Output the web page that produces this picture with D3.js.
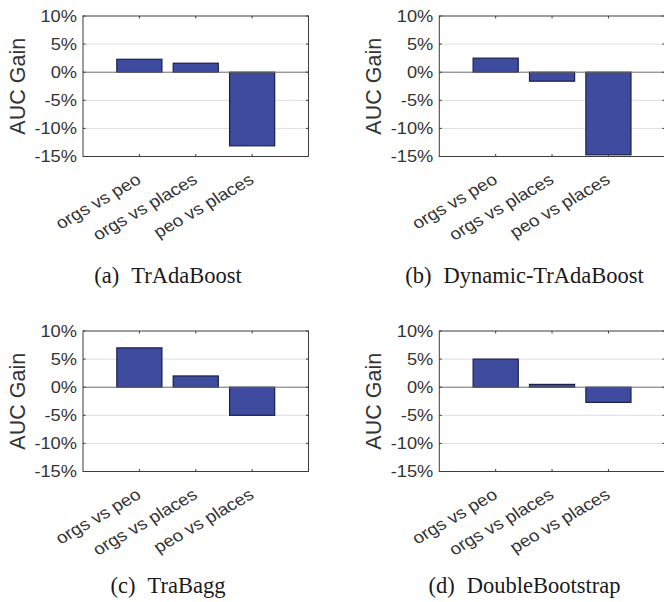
<!DOCTYPE html>
<html>
<head>
<meta charset="utf-8">
<script src="https://cdn.jsdelivr.net/npm/d3@7"></script>
<style>
  html, body { margin: 0; padding: 0; background: #fff; }
  svg { display: block; }
</style>
</head>
<body>
<svg id="chart" width="664" height="602"></svg>
<script>
// AUC gain of four transfer-learning methods on three source/target pairs
const categories = ["orgs vs peo", "orgs vs places", "peo vs places"];
const trAdaBoost = [2.3, 1.6, -13.1];
const dynamicTrAdaBoost = [2.5, -1.6, -14.7];
const traBagg = [7.0, 2.0, -5.0];
const doubleBootstrap = [5.0, 0.5, -2.7];
const yTicks = [-15, -10, -5, 0, 5, 10];
const panelTags = ["(a)", "(b)", "(c)", "(d)"];
const panelNames = ["TrAdaBoost", "Dynamic-TrAdaBoost", "TraBagg", "DoubleBootstrap"];
const yLabel = "AUC Gain";

const seriesList = [trAdaBoost, dynamicTrAdaBoost, traBagg, doubleBootstrap];

// grid of axes: two columns, two rows
const colLeft = [83, 439.3];
const axWidth = 225.5;
const rowTop = [16, 331];
const axHeight = 140.5;
const captionX = [168, 524.5];
const captionY = [283, 592.5];

const sx = 1.12; // horizontal widening of the sans labels
const fill = "#3e4b9e", edge = "#1a1f4a";
const axisColor = "#3d3d3d", textColor = "#333";

const svg = d3.select("#chart");
svg.append("rect").attr("width", 664).attr("height", 602).attr("fill", "#fff");

seriesList.forEach((values, i) => {
  const col = i % 2, row = Math.floor(i / 2);
  const left = colLeft[col], top = rowTop[row];
  const right = left + axWidth, bottom = top + axHeight;

  const x = d3.scaleLinear().domain([0, categories.length + 1]).range([left, right]);
  const y = d3.scaleLinear().domain([-15, 10]).range([bottom, top]);
  const bw = x(0.8) - x(0);

  const g = svg.append("g");

  // horizontal grid
  g.selectAll("line.grid").data(yTicks.filter(t => t > -15 && t < 10 && t !== 0))
    .join("line").attr("class", "grid")
    .attr("x1", left).attr("x2", right)
    .attr("y1", d => y(d)).attr("y2", d => y(d))
    .attr("stroke", "#dedede").attr("stroke-width", 1);

  // bars
  g.selectAll("rect.bar").data(values).join("rect").attr("class", "bar")
    .attr("x", (d, k) => x(k + 1) - bw / 2)
    .attr("width", bw)
    .attr("y", d => y(Math.max(0, d)))
    .attr("height", d => Math.abs(y(d) - y(0)))
    .attr("fill", fill).attr("stroke", edge).attr("stroke-width", 1.2);

  // baseline at zero
  g.append("line").attr("x1", left).attr("x2", right)
    .attr("y1", y(0)).attr("y2", y(0))
    .attr("stroke", "#6b6b6b").attr("stroke-width", 1);

  // axes frame with inward ticks on all four sides
  g.append("rect").attr("x", left).attr("y", top)
    .attr("width", axWidth).attr("height", axHeight)
    .attr("fill", "none").attr("stroke", axisColor).attr("stroke-width", 1);

  const tl = 2.5;
  categories.forEach((c, k) => {
    const cx = x(k + 1);
    g.append("line").attr("x1", cx).attr("x2", cx).attr("y1", bottom).attr("y2", bottom - tl)
      .attr("stroke", axisColor);
    g.append("line").attr("x1", cx).attr("x2", cx).attr("y1", top).attr("y2", top + tl)
      .attr("stroke", axisColor);
  });
  yTicks.forEach(t => {
    g.append("line").attr("x1", left).attr("x2", left + tl).attr("y1", y(t)).attr("y2", y(t))
      .attr("stroke", axisColor);
    g.append("line").attr("x1", right).attr("x2", right - tl).attr("y1", y(t)).attr("y2", y(t))
      .attr("stroke", axisColor);
  });

  // y tick labels
  g.selectAll("text.ytick").data(yTicks).join("text").attr("class", "ytick")
    .attr("transform", d => `translate(${left - 6},${y(d)}) scale(${sx},1)`)
    .attr("dy", "0.36em")
    .attr("text-anchor", "end")
    .attr("font-family", "'Liberation Sans', Arial, sans-serif")
    .attr("font-size", 16.3).attr("fill", textColor)
    .text(d => d + "%");

  // rotated category labels
  g.selectAll("text.xtick").data(categories).join("text").attr("class", "xtick")
    .attr("transform", (d, k) => `translate(${x(k + 1) + 3},${bottom + 26}) scale(${sx},1) rotate(-33)`)
    .attr("text-anchor", "end")
    .attr("font-family", "'Liberation Sans', Arial, sans-serif")
    .attr("font-size", 16.8).attr("fill", textColor)
    .text(d => d);

  // y axis title
  g.append("text")
    .attr("transform", `translate(${left - 58},${(top + bottom) / 2}) rotate(-90)`)
    .attr("text-anchor", "middle")
    .attr("font-family", "'Liberation Sans', Arial, sans-serif")
    .attr("font-size", 21.5).attr("fill", textColor)
    .text(yLabel);

  // subfigure caption
  const cap = g.append("text")
    .attr("x", captionX[col]).attr("y", captionY[row])
    .attr("text-anchor", "middle")
    .attr("font-family", "'Liberation Serif', 'Times New Roman', serif")
    .attr("font-size", 22.5).attr("fill", "#1a1a1a");
  cap.append("tspan").text(panelTags[i]);
  cap.append("tspan").attr("dx", 12).text(panelNames[i]);
});
</script>
</body>
</html>
